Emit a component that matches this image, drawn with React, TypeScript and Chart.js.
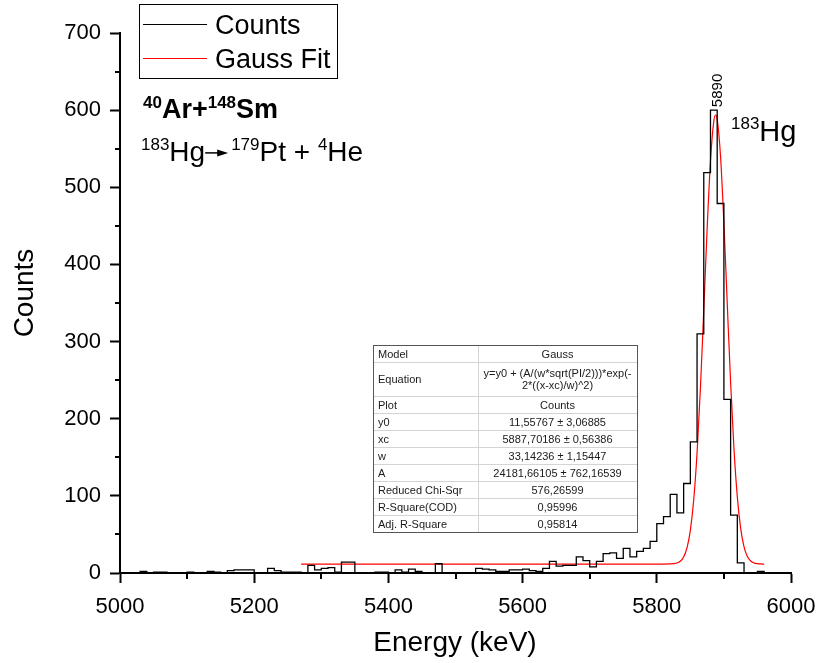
import React, { useEffect, useRef } from 'react';
import { Chart, registerables } from 'chart.js';

Chart.register(...registerables);

// ---------- data ----------
const binStart = [
  5000, 5010, 5020, 5030, 5040, 5050, 5060, 5070, 5080, 5090,
  5100, 5110, 5120, 5130, 5140, 5150, 5160, 5170, 5180, 5190,
  5200, 5210, 5220, 5230, 5240, 5250, 5260, 5270, 5280, 5290,
  5300, 5310, 5320, 5330, 5340, 5350, 5360, 5370, 5380, 5390,
  5400, 5410, 5420, 5430, 5440, 5450, 5460, 5470, 5480, 5490,
  5500, 5510, 5520, 5530, 5540, 5550, 5560, 5570, 5580, 5590,
  5600, 5610, 5620, 5630, 5640, 5650, 5660, 5670, 5680, 5690,
  5700, 5710, 5720, 5730, 5740, 5750, 5760, 5770, 5780, 5790,
  5800, 5810, 5820, 5830, 5840, 5850, 5860, 5870, 5880, 5890,
  5900, 5910, 5920, 5930, 5940, 5950,
];
const counts = [
  0, 0, 0, 2, 0, 1, 1, 0, 0, 0,
  1, 0, 0, 2, 1, 0, 3, 4, 4, 4,
  0, 0, 6, 3, 1, 1, 1, 0, 10, 4,
  6, 7, 1, 14, 14, 0, 0, 0, 1, 1,
  0, 4, 1, 5, 2, 0, 0, 12, 0, 0,
  0, 0, 0, 6, 5, 4, 2, 2, 4, 4,
  5, 3, 2, 6, 15, 9, 10, 10, 21, 16,
  8, 15, 25, 26, 19, 32, 21, 28, 32, 41,
  64, 73, 102, 78, 116, 170, 310, 519, 600, 479,
  225, 75, 13, 0, 0, 2,
];
const histEnd = 5960;

const fitEnergy = [
  5270, 5800, 5810, 5820, 5830, 5835, 5840, 5845, 5850, 5855, 5860, 5865,
  5870, 5875, 5880, 5885, 5887.7, 5890, 5895, 5900, 5905, 5910, 5915, 5920,
  5925, 5930, 5935, 5940, 5945, 5950, 5955, 5960,
];
const fitCounts = [
  11.56, 11.56, 11.57, 11.7, 12.92, 15.26, 20.8, 32.6, 55.31, 94.63, 155.53, 239.4,
  340.7, 445.6, 534.2, 586.0, 593.7, 588.1, 539.9, 453.6, 349.2, 247.0, 161.5, 98.69,
  57.8, 33.96, 21.47, 15.56, 13.03, 12.05, 11.71, 11.6,
];

const xTickValues = [5000, 5200, 5400, 5600, 5800, 6000];
const xTickLabels = ['5000', '5200', '5400', '5600', '5800', '6000'];
const xMinorTicks = [5100, 5300, 5500, 5700, 5900];
const yTickValues = [0, 100, 200, 300, 400, 500, 600, 700];
const yTickLabels = ['0', '100', '200', '300', '400', '500', '600', '700'];
const yMinorTicks = [50, 150, 250, 350, 450, 550, 650];

const peakLabel = '5890';
const peakEnergy = 5888;
const peakCounts = 600;

const tableRows: [string, string[]][] = [
  ['Model', ['Gauss']],
  ['Equation', ['y=y0 + (A/(w*sqrt(PI/2)))*exp(-', '2*((x-xc)/w)^2)']],
  ['Plot', ['Counts']],
  ['y0', ['11,55767 ± 3,06885']],
  ['xc', ['5887,70186 ± 0,56386']],
  ['w', ['33,14236 ± 1,15447']],
  ['A', ['24181,66105 ± 762,16539']],
  ['Reduced Chi-Sqr', ['576,26599']],
  ['R-Square(COD)', ['0,95996']],
  ['Adj. R-Square', ['0,95814']],
];

const FONT = "'Liberation Sans', Arial, sans-serif";

type Part = { t: string; size: number; sup?: boolean; bold?: boolean };

function drawRich(ctx: CanvasRenderingContext2D, x: number, base: number, parts: Part[], mainSize: number) {
  let cx = x;
  for (const p of parts) {
    ctx.font = `${p.bold ? 'bold ' : ''}${p.size}px ${FONT}`;
    const y = p.sup ? base - mainSize * 0.42 : base;
    if (p.t === '→') {
      const w = 23;
      const ay = base - mainSize * 0.3;
      ctx.save();
      ctx.strokeStyle = '#000';
      ctx.fillStyle = '#000';
      ctx.lineWidth = 1.5;
      ctx.beginPath();
      ctx.moveTo(cx, ay);
      ctx.lineTo(cx + w - 8, ay);
      ctx.stroke();
      ctx.beginPath();
      ctx.moveTo(cx + w, ay);
      ctx.lineTo(cx + w - 11, ay - 3.5);
      ctx.lineTo(cx + w - 11, ay + 3.5);
      ctx.closePath();
      ctx.fill();
      ctx.restore();
      cx += w + 3;
      continue;
    }
    ctx.fillText(p.t, cx, y);
    cx += ctx.measureText(p.t).width;
  }
}

const overlayPlugin = {
  id: 'overlay',
  afterDraw(chart: any) {
    const ctx: CanvasRenderingContext2D = chart.ctx;
    const xs = chart.scales.x;
    const ys = chart.scales.y;
    const area = chart.chartArea;
    ctx.save();
    // minor ticks
    ctx.strokeStyle = '#000';
    ctx.lineWidth = 2;
    ctx.beginPath();
    for (const v of xMinorTicks) {
      const px = Math.round(xs.getPixelForValue(v));
      ctx.moveTo(px, area.bottom);
      ctx.lineTo(px, area.bottom + 6);
    }
    for (const v of yMinorTicks) {
      const py = Math.round(ys.getPixelForValue(v));
      ctx.moveTo(area.left - 5, py);
      ctx.lineTo(area.left, py);
    }
    ctx.stroke();

    ctx.fillStyle = '#000';
    // axis titles
    ctx.font = `28px ${FONT}`;
    ctx.textAlign = 'center';
    ctx.textBaseline = 'alphabetic';
    ctx.fillText('Energy (keV)', 455, 651);
    ctx.save();
    ctx.translate(33, 293);
    ctx.rotate(-Math.PI / 2);
    ctx.fillText('Counts', 0, 0);
    ctx.restore();

    // legend
    ctx.strokeStyle = '#000';
    ctx.lineWidth = 1;
    ctx.strokeRect(139.5, 4.5, 198, 74);
    ctx.beginPath();
    ctx.moveTo(143, 24.5);
    ctx.lineTo(207, 24.5);
    ctx.stroke();
    ctx.strokeStyle = '#ff0000';
    ctx.beginPath();
    ctx.moveTo(143, 58.5);
    ctx.lineTo(207, 58.5);
    ctx.stroke();
    ctx.textAlign = 'left';
    ctx.font = `27px ${FONT}`;
    ctx.fillText('Counts', 215, 34);
    ctx.fillText('Gauss Fit', 215, 68);

    // annotations
    drawRich(ctx, 143, 118, [
      { t: '40', size: 17, sup: true, bold: true },
      { t: 'Ar+', size: 27, bold: true },
      { t: '148', size: 17, sup: true, bold: true },
      { t: 'Sm', size: 27, bold: true },
    ], 25);
    drawRich(ctx, 141, 161, [
      { t: '183', size: 17, sup: true },
      { t: 'Hg', size: 28 },
      { t: '→', size: 28 },
      { t: '179', size: 17, sup: true },
      { t: 'Pt + ', size: 28 },
      { t: '4', size: 17, sup: true },
      { t: 'He', size: 28 },
    ], 27);
    drawRich(ctx, 731, 141, [
      { t: '183', size: 17, sup: true },
      { t: 'Hg', size: 29 },
    ], 29);

    // peak label
    ctx.save();
    ctx.font = `15px ${FONT}`;
    ctx.translate(xs.getPixelForValue(peakEnergy) + 2, ys.getPixelForValue(peakCounts) - 3);
    ctx.rotate(-Math.PI / 2);
    ctx.textAlign = 'left';
    ctx.textBaseline = 'middle';
    ctx.fillText(peakLabel, 0, 0);
    ctx.restore();

    // table
    const L = 373, R = 637, S = 478, T = 345;
    const rowH = [17, 34, 17, 17, 17, 17, 17, 17, 17, 17];
    const B = T + rowH.reduce((a, b) => a + b, 0);
    ctx.fillStyle = '#fff';
    ctx.fillRect(L, T, R - L, B - T);
    ctx.strokeStyle = '#d4d4d4';
    ctx.lineWidth = 1;
    ctx.beginPath();
    let yy = T;
    for (let i = 0; i < rowH.length - 1; i++) {
      yy += rowH[i];
      ctx.moveTo(L, yy + 0.5);
      ctx.lineTo(R, yy + 0.5);
    }
    ctx.moveTo(S + 0.5, T);
    ctx.lineTo(S + 0.5, B);
    ctx.stroke();
    ctx.strokeStyle = '#555';
    ctx.strokeRect(L + 0.5, T + 0.5, R - L, B - T);
    ctx.fillStyle = '#1a1a1a';
    ctx.font = `11px ${FONT}`;
    ctx.textBaseline = 'middle';
    yy = T;
    tableRows.forEach(([label, vals], i) => {
      const h = rowH[i];
      const cy = yy + h / 2 + 1;
      ctx.textAlign = 'left';
      ctx.fillText(label, L + 5, cy);
      ctx.textAlign = 'center';
      const cx = (S + R) / 2;
      if (vals.length === 1) {
        ctx.fillText(vals[0], cx, cy);
      } else {
        ctx.fillText(vals[0], cx, cy - 6);
        ctx.fillText(vals[1], cx, cy + 6);
      }
      yy += h;
    });
    ctx.restore();
  },
};

export default function App() {
  const ref = useRef<HTMLCanvasElement>(null);
  useEffect(() => {
    if (!ref.current) return;
    const histData = binStart.map((x, i) => ({ x, y: counts[i] }));
    histData.push({ x: histEnd, y: 0 });
    const fitData = fitEnergy.map((x, i) => ({ x, y: fitCounts[i] }));
    const chart = new Chart(ref.current, {
      type: 'line',
      data: {
        datasets: [
          {
            label: 'Counts',
            data: histData,
            borderColor: '#000',
            borderWidth: 1.3,
            pointRadius: 0,
            stepped: 'before',
            fill: false,
          },
          {
            label: 'Gauss Fit',
            data: fitData,
            borderColor: '#ff0000',
            borderWidth: 1.2,
            pointRadius: 0,
            cubicInterpolationMode: 'monotone',
            fill: false,
          },
        ],
      },
      options: {
        animation: false,
        responsive: false,
        devicePixelRatio: 1,
        layout: { padding: { left: 0, top: 33, right: 28, bottom: 0 } },
        plugins: { legend: { display: false }, tooltip: { enabled: false } },
        scales: {
          x: {
            type: 'linear',
            min: 5000,
            max: 6000,
            afterFit: (axis: any) => {
              axis.height = 90;
              axis.paddingLeft = 0;
              axis.paddingRight = 0;
            },
            afterBuildTicks: (axis: any) => { axis.ticks = xTickValues.map((v) => ({ value: v })); },
            ticks: {
              color: '#000',
              font: { family: FONT, size: 22 },
              padding: 11,
              maxRotation: 0,
              autoSkip: false,
              callback: (v: any) => xTickLabels[xTickValues.indexOf(Number(v))] ?? '',
            },
            grid: { display: true, drawOnChartArea: false, drawTicks: true, tickLength: 10, tickWidth: 2, tickColor: '#000', color: '#000' },
            border: { display: true, color: '#000', width: 2 },
          },
          y: {
            type: 'linear',
            min: 0,
            max: 700,
            afterFit: (axis: any) => {
              axis.width = 120;
              axis.paddingTop = 0;
              axis.paddingBottom = 0;
            },
            afterBuildTicks: (axis: any) => { axis.ticks = yTickValues.map((v) => ({ value: v })); },
            ticks: {
              color: '#000',
              font: { family: FONT, size: 22 },
              padding: 9,
              autoSkip: false,
              callback: (v: any) => yTickLabels[yTickValues.indexOf(Number(v))] ?? '',
            },
            grid: { display: true, drawOnChartArea: false, drawTicks: true, tickLength: 10, tickWidth: 2, tickColor: '#000', color: '#000' },
            border: { display: true, color: '#000', width: 2 },
          },
        },
      },
      plugins: [overlayPlugin],
    } as any);
    return () => chart.destroy();
  }, []);
  return (
    <div style={{ position: 'fixed', left: 0, top: 0, width: 819, height: 663, background: '#fff' }}>
      <canvas ref={ref} width={819} height={663} style={{ width: 819, height: 663, display: 'block' }} />
    </div>
  );
}
